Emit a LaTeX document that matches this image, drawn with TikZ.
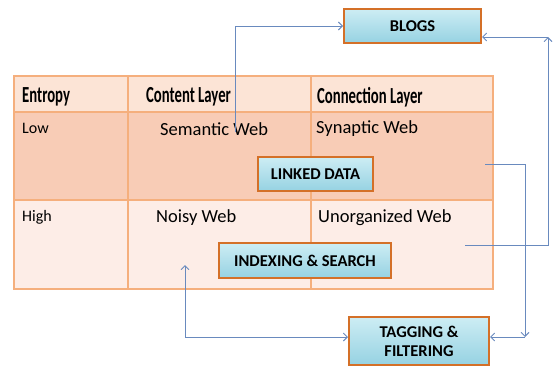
\documentclass[tikz,border=0pt]{standalone}
\usepackage{fontspec}
\setmainfont{Carlito}
\newfontfamily\headfont[FakeStretch=0.64]{Carlito}
\usepackage{tikz}
\usetikzlibrary{arrows.meta,shapes}
\definecolor{headfill}{RGB}{252,228,214}
\definecolor{lowfill}{RGB}{248,204,182}
\definecolor{highfill}{RGB}{253,237,231}
\definecolor{gridline}{RGB}{245,175,125}
\definecolor{boxedge}{RGB}{212,112,40}
\definecolor{boxtop}{RGB}{205,237,244}
\definecolor{boxbot}{RGB}{150,210,226}
\definecolor{linkblue}{RGB}{105,138,190}
\tikzstyle{grid} = [draw=gridline,line width=1.4pt]
\tikzstyle{headtext} = [anchor=west,inner sep=0pt,font=\headfont\bfseries\fontsize{23}{25}\selectfont]
\tikzstyle{celltext} = [anchor=west,inner sep=0pt,font=\fontsize{18.5}{20}\selectfont]
\tikzstyle{rowtext} = [anchor=west,inner sep=0pt,font=\fontsize{16}{18}\selectfont]
\tikzstyle{webbox} = [draw=boxedge,line width=2pt,top color=boxtop,bottom color=boxbot,
  inner sep=2pt,align=center,font=\bfseries\fontsize{16.5}{19}\selectfont]
\tikzstyle{link} = [draw=linkblue,line width=0.9pt,-{Straight Barb[length=4pt,width=8pt]}]
\tikzstyle{link2} = [draw=linkblue,line width=0.9pt,{Straight Barb[length=4pt,width=8pt]}-{Straight Barb[length=4pt,width=8pt]}]

\begin{document}
\begin{tikzpicture}[x=1pt,y=-1pt]
        \useasboundingbox (0,0) rectangle (553,367);
        % table rows
        \fill[headfill] (14,76) rectangle (493,112);
        \fill[lowfill] (14,112) rectangle (493,200);
        \fill[highfill] (14,200) rectangle (493,289);
        \draw[grid] (14,76) rectangle (493,289);
        \draw[grid] (14,112) -- (493,112);
        \draw[grid] (14,200) -- (493,200);
        \draw[grid] (128,76) -- (128,289);
        \draw[grid] (311,76) -- (311,289);
        % table texts
        \node[headtext] (entropy) at (22,97) {Entropy};
        \node[headtext] (content) at (146,97) {Content Layer};
        \node[headtext] (connection) at (317,97) {Connection Layer};
        \node[rowtext] (low) at (22,128) {Low};
        \node[celltext] (semantic) at (160,129) {Semantic Web};
        \node[celltext] (synaptic) at (316,129) {Synaptic Web};
        \node[rowtext] (high) at (22,217) {High};
        \node[celltext] (noisy) at (156,218) {Noisy Web};
        \node[celltext] (unorg) at (318,218) {Unorganized Web};
        % boxes
        \node[webbox,minimum width=137pt,minimum height=34pt] (blogs) at (412.5,26) {BLOGS};
        \node[webbox,minimum width=115pt,minimum height=34pt] (linked) at (315.5,174) {LINKED DATA};
        \node[webbox,minimum width=172pt,minimum height=35pt] (index) at (305,260.5) {INDEXING \& SEARCH};
        \node[webbox,minimum width=140pt,minimum height=48pt] (tag) at (419,341) {TAGGING \&\\FILTERING};
        % connectors
        \coordinate (semA) at (235,132);
        \coordinate (unorgA) at (465,245);
        \coordinate (cornerB) at (548,37);
        \coordinate (synA) at (485,164);
        \coordinate (cornerC) at (525,337);
        \coordinate (indexA) at (185,265);
        \coordinate (cornerD) at (185,337);
        \draw[link] (semA) |- (blogs.west);
        \draw[link] (unorgA) -| (cornerB);
        \draw[link] (cornerB) -- (blogs.east |- cornerB);
        \draw[link] (synA) -| (cornerC);
        \draw[link] (cornerC) -- (tag.east |- cornerC);
        \draw[link2] (indexA) |- (tag.west |- cornerD);
      \end{tikzpicture}
\end{document}
